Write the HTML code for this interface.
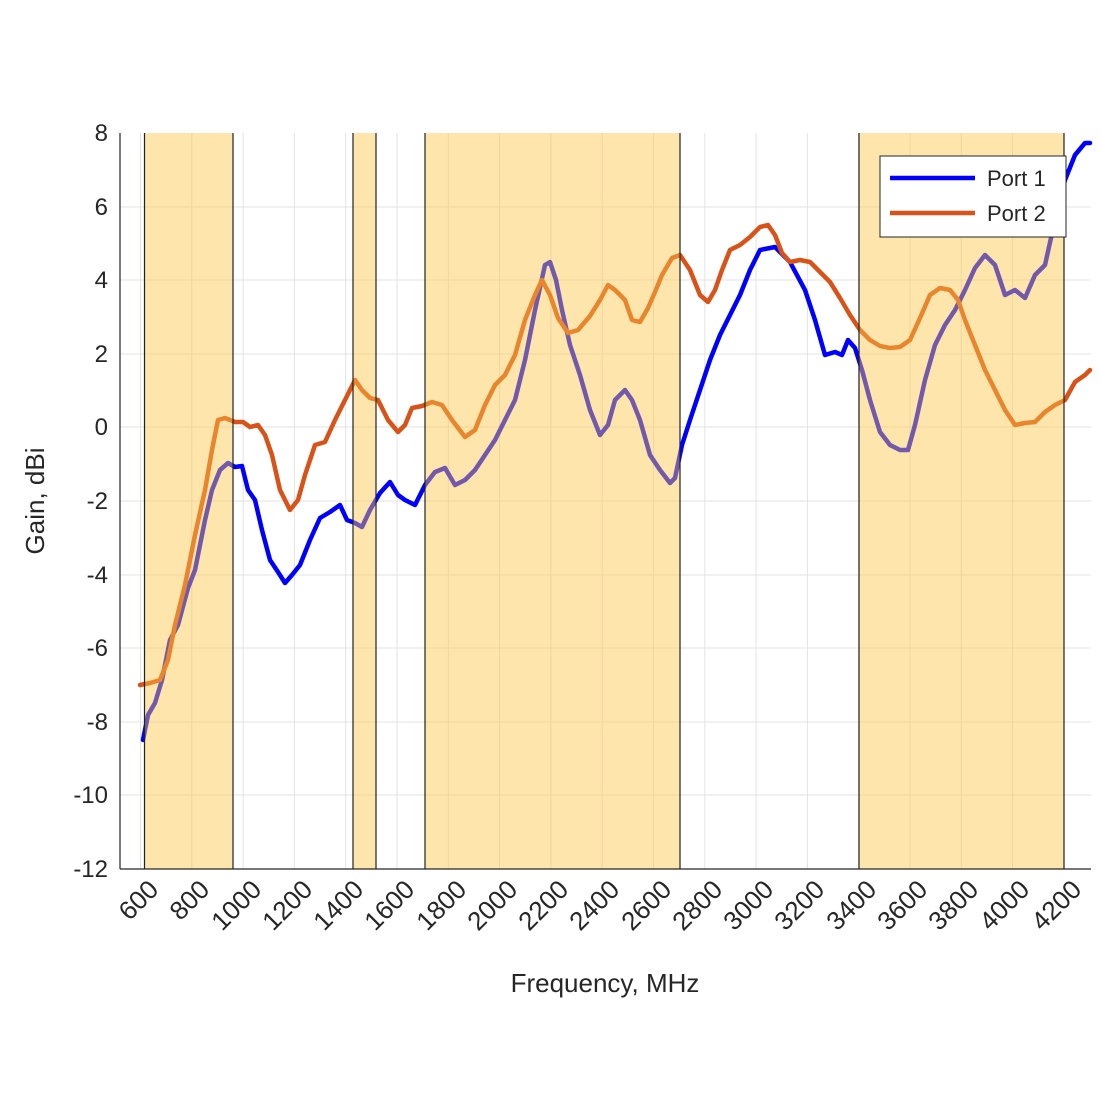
<!DOCTYPE html>
<html><head><meta charset="utf-8"><style>body{margin:0;background:#fff}svg{display:block}text{font-family:"Liberation Sans",sans-serif;fill:#262626}</style></head>
<body>
<svg width="1100" height="1100" viewBox="0 0 1100 1100" xmlns="http://www.w3.org/2000/svg">
<rect width="1100" height="1100" fill="#fff"/>
<g stroke="#e3e3e3" stroke-width="1">
<line x1="120" x2="1091" y1="207" y2="207"/><line x1="120" x2="1091" y1="280" y2="280"/><line x1="120" x2="1091" y1="354" y2="354"/><line x1="120" x2="1091" y1="427" y2="427"/><line x1="120" x2="1091" y1="501" y2="501"/><line x1="120" x2="1091" y1="575" y2="575"/><line x1="120" x2="1091" y1="648" y2="648"/><line x1="120" x2="1091" y1="722" y2="722"/><line x1="120" x2="1091" y1="795" y2="795"/>
<line y1="133" y2="869" x1="140.5" x2="140.5"/><line y1="133" y2="869" x1="191.8" x2="191.8"/><line y1="133" y2="869" x1="243.1" x2="243.1"/><line y1="133" y2="869" x1="294.4" x2="294.4"/><line y1="133" y2="869" x1="345.7" x2="345.7"/><line y1="133" y2="869" x1="397" x2="397"/><line y1="133" y2="869" x1="448.3" x2="448.3"/><line y1="133" y2="869" x1="499.6" x2="499.6"/><line y1="133" y2="869" x1="550.9" x2="550.9"/><line y1="133" y2="869" x1="602.2" x2="602.2"/><line y1="133" y2="869" x1="653.5" x2="653.5"/><line y1="133" y2="869" x1="704.8" x2="704.8"/><line y1="133" y2="869" x1="756.1" x2="756.1"/><line y1="133" y2="869" x1="807.4" x2="807.4"/><line y1="133" y2="869" x1="858.7" x2="858.7"/><line y1="133" y2="869" x1="910" x2="910"/><line y1="133" y2="869" x1="961.3" x2="961.3"/><line y1="133" y2="869" x1="1012.6" x2="1012.6"/><line y1="133" y2="869" x1="1063.9" x2="1063.9"/>
</g>
<g fill="none" stroke-width="4.5" stroke-linejoin="round" stroke-linecap="round">
<polyline stroke="#0000ff" points="143,740 148,715 155,703 162,680 170,640 178,625 188,588 195,570 205,520 212,490 220,470 228,463 235,467 242,466 248,490 255,500 262,530 270,560 278,572 285,583 292,575 300,565 310,540 320,518 330,512 340,505 347,520 355,523 362,527 370,510 380,493 390,482 398,495 405,500 415,505 425,485 435,472 445,468 455,485 465,480 475,470 485,455 495,440 505,420 515,400 525,360 535,310 545,265 550,262 556,280 562,310 570,345 580,375 590,410 600,435 608,425 615,400 625,390 632,400 640,420 650,455 660,470 670,483 675,478 682,445 690,420 700,390 710,360 720,335 730,315 740,295 750,270 760,250 775,247 790,262 805,290 815,320 825,355 835,352 842,355 848,340 855,348 862,370 870,400 880,432 890,445 900,450 908,450 915,425 925,380 935,345 945,325 955,310 965,290 975,268 985,255 995,265 1005,295 1015,290 1025,298 1035,275 1045,265 1055,220 1065,180 1075,155 1085,143 1090,143"/>
<polyline stroke="#d95319" points="140,685 150,683 160,680 168,660 175,625 185,585 195,535 205,490 212,450 218,420 225,418 235,422 243,422 250,427 258,425 265,435 272,455 280,490 290,510 298,500 305,475 315,445 325,442 335,420 345,400 355,380 362,390 370,398 378,400 388,420 398,432 405,425 412,408 422,406 432,402 442,405 452,420 465,437 475,430 485,405 495,385 505,375 515,355 525,320 535,295 542,280 550,295 558,318 568,333 578,330 590,316 600,300 608,285 615,290 625,300 632,320 640,322 648,308 655,292 662,275 672,258 680,255 690,270 700,295 708,302 715,290 722,270 730,250 740,245 750,237 760,227 768,225 775,235 782,253 790,262 800,260 810,262 820,272 830,282 840,298 850,315 860,330 870,340 880,346 890,348 900,347 910,340 920,318 930,295 940,288 950,290 958,300 965,320 975,345 985,370 995,390 1005,410 1015,425 1025,423 1035,422 1045,412 1055,405 1065,400 1075,382 1085,375 1090,370"/>
</g>
<g fill="rgb(252,198,70)" fill-opacity="0.45">
<rect x="144.5" y="133" width="88.5" height="736"/>
<rect x="353" y="133" width="23" height="736"/>
<rect x="425" y="133" width="255" height="736"/>
<rect x="859" y="133" width="205" height="736"/>
</g>
<g stroke="#222" stroke-width="1.2">
<line x1="144.5" x2="144.5" y1="133" y2="869"/><line x1="233" x2="233" y1="133" y2="869"/>
<line x1="353" x2="353" y1="133" y2="869"/><line x1="376" x2="376" y1="133" y2="869"/>
<line x1="425" x2="425" y1="133" y2="869"/><line x1="680" x2="680" y1="133" y2="869"/>
<line x1="859" x2="859" y1="133" y2="869"/><line x1="1064" x2="1064" y1="133" y2="869"/>
</g>
<g stroke="#262626" stroke-width="1.2" fill="none">
<line x1="120" y1="133" x2="120" y2="869"/><line x1="120" y1="869" x2="1091" y2="869"/>
</g>
<g font-size="24" text-anchor="end">
<text x="108" y="141">8</text><text x="108" y="215">6</text><text x="108" y="288">4</text><text x="108" y="362">2</text><text x="108" y="435">0</text><text x="108" y="509">-2</text><text x="108" y="583">-4</text><text x="108" y="656">-6</text><text x="108" y="730">-8</text><text x="108" y="803">-10</text><text x="108" y="877">-12</text>
</g>
<g font-size="26" text-anchor="end">
<text transform="translate(160,891) rotate(-45)">600</text><text transform="translate(211,891) rotate(-45)">800</text><text transform="translate(263,891) rotate(-45)">1000</text><text transform="translate(314,891) rotate(-45)">1200</text><text transform="translate(365,891) rotate(-45)">1400</text><text transform="translate(416,891) rotate(-45)">1600</text><text transform="translate(468,891) rotate(-45)">1800</text><text transform="translate(519,891) rotate(-45)">2000</text><text transform="translate(570,891) rotate(-45)">2200</text><text transform="translate(621,891) rotate(-45)">2400</text><text transform="translate(673,891) rotate(-45)">2600</text><text transform="translate(724,891) rotate(-45)">2800</text><text transform="translate(775,891) rotate(-45)">3000</text><text transform="translate(826,891) rotate(-45)">3200</text><text transform="translate(878,891) rotate(-45)">3400</text><text transform="translate(929,891) rotate(-45)">3600</text><text transform="translate(980,891) rotate(-45)">3800</text><text transform="translate(1031,891) rotate(-45)">4000</text><text transform="translate(1083,891) rotate(-45)">4200</text>
</g>
<text x="605" y="992" font-size="26" text-anchor="middle">Frequency, MHz</text>
<text transform="translate(44,501) rotate(-90)" font-size="26" text-anchor="middle">Gain, dBi</text>
<rect x="880" y="156" width="186" height="81" fill="#fff" stroke="#262626" stroke-width="1"/>
<line x1="890" x2="975" y1="178" y2="178" stroke="#0000ff" stroke-width="4.5"/>
<line x1="890" x2="975" y1="213" y2="213" stroke="#d95319" stroke-width="4.5"/>
<text x="987" y="186" font-size="22">Port 1</text>
<text x="987" y="221" font-size="22">Port 2</text>
</svg>
</body></html>
